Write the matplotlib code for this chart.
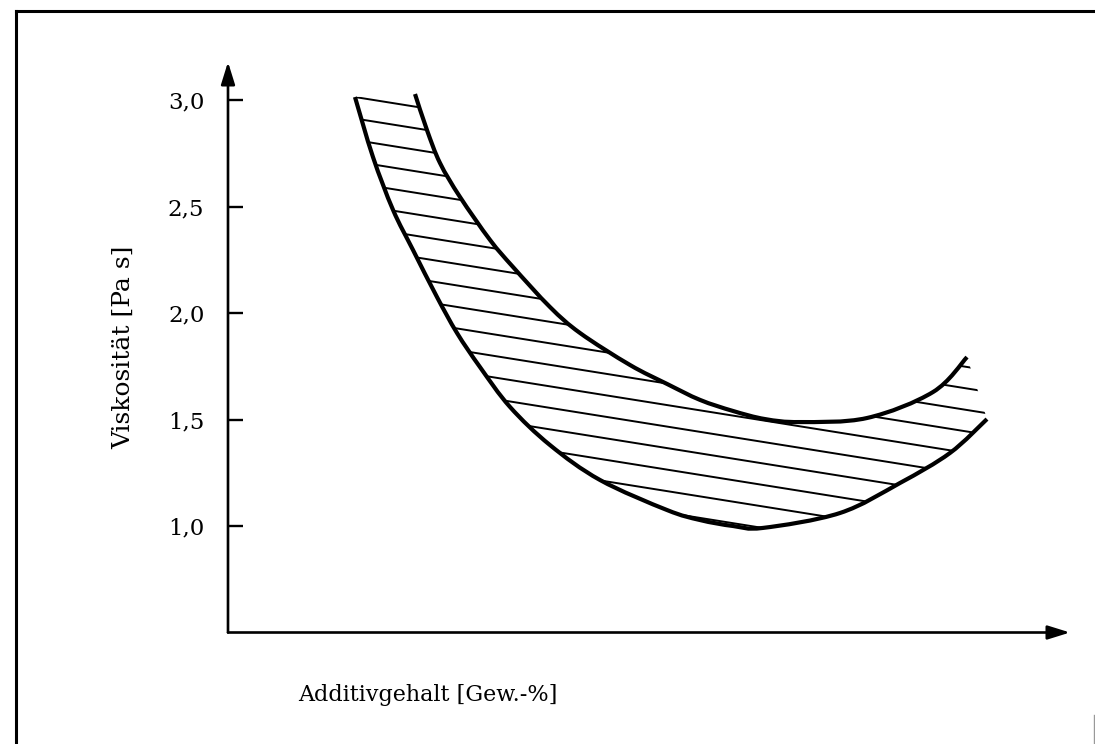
import numpy as np
import matplotlib
matplotlib.use("Agg")
import matplotlib.pyplot as plt
from matplotlib.patches import PathPatch
from matplotlib.path import Path
from matplotlib.lines import Line2D

# Viscosity band vs. additive content (arbitrary content units)
lower_x = [1.508, 1.722, 1.960, 2.197, 2.482, 2.720, 2.993, 3.349, 3.824,
           4.418, 5.214, 5.606, 5.998, 6.354, 7.268, 7.981, 8.575, 9.014]
lower_y = [3.014, 2.732, 2.484, 2.296, 2.075, 1.906, 1.746, 1.559, 1.380,
           1.216, 1.075, 1.028, 1.000, 0.991, 1.061, 1.202, 1.343, 1.502]

upper_x = [2.221, 2.363, 2.518, 2.755, 3.112, 3.385, 3.824, 4.181, 4.774,
           5.214, 5.606, 5.998, 6.378, 6.793, 7.589, 8.373, 8.777]
upper_y = [3.028, 2.859, 2.704, 2.545, 2.343, 2.216, 2.028, 1.906, 1.756,
           1.667, 1.592, 1.540, 1.502, 1.488, 1.507, 1.629, 1.793]

y_ticks = [1.0, 1.5, 2.0, 2.5, 3.0]
y_tick_labels = ["1,0", "1,5", "2,0", "2,5", "3,0"]

x_label = "Additivgehalt [Gew.-%]"
y_label = "Viskosität [Pa s]"


def bezier_through(xs, ys):
    """Cubic Bezier vertices (Catmull-Rom style) passing through the given points."""
    p = np.column_stack([xs, ys])
    n = len(p)
    verts = [p[0]]
    for i in range(n - 1):
        prev_p = p[max(i - 1, 0)]
        next_p = p[min(i + 2, n - 1)]
        c1 = p[i] + (p[i + 1] - prev_p) / 6.0
        c2 = p[i + 1] - (next_p - p[i]) / 6.0
        verts += [c1, c2, p[i + 1]]
    return np.array(verts)


W, H = 1095, 744
plt.rcParams["font.family"] = ["DejaVu Serif"]
fig = plt.figure(figsize=(W / 100, H / 100), dpi=100)
fig.patch.set_facecolor("white")

ax_left, ax_right = 228 / W, 1070 / W
ax_bottom, ax_top = (H - 632.5) / H, (H - 62) / H
ax = fig.add_axes([ax_left, ax_bottom, ax_right - ax_left, ax_top - ax_bottom])
ax.set_xlim(0, 10)
ax.set_ylim(0.5, 0.5 + (632.5 - 62) / 213)
for s in ax.spines.values():
    s.set_visible(False)
ax.set_facecolor("none")

# axes with arrow heads
arrow_kw = dict(arrowstyle="-|>,head_length=1.35,head_width=0.42",
                color="black", lw=1.9, shrinkA=0, shrinkB=0)
ax.annotate("", xy=(0, 1), xytext=(0, 0), xycoords="axes fraction",
            textcoords="axes fraction", arrowprops=arrow_kw)
ax.annotate("", xy=(1, 0), xytext=(0, 0), xycoords="axes fraction",
            textcoords="axes fraction", arrowprops=arrow_kw)

ax.set_xticks([])
ax.set_yticks(y_ticks)
ax.set_yticklabels(y_tick_labels, fontsize=16.5)
ax.tick_params(axis="y", direction="in", length=10.5, width=1.7, pad=17)

# smooth boundary curves
lower_v = bezier_through(lower_x, lower_y)
upper_v = bezier_through(upper_x, upper_y)
lower_codes = [Path.MOVETO] + [Path.CURVE4] * (len(lower_v) - 1)
upper_codes = [Path.MOVETO] + [Path.CURVE4] * (len(upper_v) - 1)

# closed band for clipping the hatching
up_rev = upper_v[::-1]
band_verts = np.vstack([lower_v, up_rev, lower_v[:1]])
band_codes = (lower_codes + [Path.LINETO] + [Path.CURVE4] * (len(up_rev) - 1)
              + [Path.CLOSEPOLY])
band = PathPatch(Path(band_verts, band_codes), facecolor="none", edgecolor="none")
ax.add_patch(band)

slope = 0.0632
spacing = 0.101
start = lower_y[0] + slope * lower_x[0]
xs = np.array([0.0, 10.0])
for n in range(40):
    c = start - n * spacing
    ln, = ax.plot(xs, c - slope * xs, color="black", lw=1.4, solid_capstyle="butt")
    ln.set_clip_path(band)

for v, cd in ((lower_v, lower_codes), (upper_v, upper_codes)):
    ax.add_patch(PathPatch(Path(v, cd), facecolor="none", edgecolor="black",
                           lw=3.0, capstyle="butt", joinstyle="round"))

# axis titles
fig.text(428 / W, 1 - 695 / H, x_label, ha="center", va="center", fontsize=16)
fig.text(124 / W, 1 - 347 / H, y_label, ha="center", va="center", fontsize=18,
         rotation=90)

# outer frame
fig.add_artist(Line2D([16 / W, 16 / W], [0, 1 - 11 / H], color="black", lw=2.2,
                      transform=fig.transFigure))
fig.add_artist(Line2D([16 / W, 1], [1 - 11 / H, 1 - 11 / H], color="black", lw=2.2,
                      transform=fig.transFigure))
fig.add_artist(Line2D([1094 / W, 1094 / W], [0, 1 - 715 / H], color="#999999", lw=1.0,
                      transform=fig.transFigure))

fig.savefig("out.png", dpi=100, facecolor="white")
